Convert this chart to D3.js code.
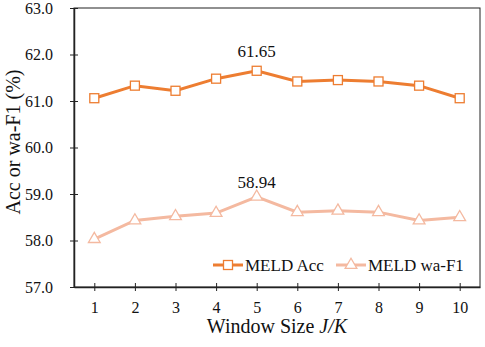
<!DOCTYPE html>
<html><head><meta charset="utf-8">
<script src="https://cdn.jsdelivr.net/npm/d3@7"></script>
<style>body{margin:0;background:#fff}svg{display:block}text{font-family:"Liberation Serif","Times New Roman",serif;fill:#111}</style>
</head><body><svg id="c" width="485" height="347"></svg>
<script>
const windowSizes = [1,2,3,4,5,6,7,8,9,10];
const accValues = [61.06,61.33,61.22,61.48,61.65,61.42,61.45,61.42,61.33,61.06];
const f1Values = [58.03,58.43,58.52,58.59,58.94,58.61,58.64,58.61,58.43,58.50];
const yTicks = [57,58,59,60,61,62,63];
const seriesNames = ["MELD Acc","MELD wa-F1"];
const colors = ["#ED7D31","#F4B9A0"];

const svg = d3.select("#c");
const L=74,R=480,T=8,B=287;
const x = d3.scaleLinear().domain([0.5,10.5]).range([L,R]);
const y = d3.scaleLinear().domain([57,63]).range([B,T]);

// frame
svg.append("rect").attr("x",L).attr("y",T).attr("width",R-L).attr("height",B-T)
  .attr("fill","none").attr("stroke","#222").attr("stroke-width",1);

const yAxis = svg.append("g").attr("transform",`translate(${L},0)`)
  .call(d3.axisLeft(y).tickValues(yTicks).tickFormat(d3.format(".1f")).tickSize(0).tickPadding(21));
yAxis.select(".domain").attr("stroke","#222").attr("stroke-width",1.5);
yAxis.selectAll(".tick line").attr("x1",-4).attr("x2",4).attr("stroke","#222");
yAxis.selectAll("text").style("font-size","16px").style("font-family","Liberation Serif").attr("fill","#111");

const xAxis = svg.append("g").attr("transform",`translate(0,${B})`)
  .call(d3.axisBottom(x).tickValues(windowSizes).tickSize(0).tickPadding(15));
xAxis.select(".domain").attr("stroke","#222").attr("stroke-width",1.5);
xAxis.selectAll(".tick line").attr("y1",-4).attr("y2",4).attr("stroke","#222");
xAxis.selectAll("text").style("font-size","16px").style("font-family","Liberation Serif").attr("fill","#111");

// axis titles
svg.append("text").attr("transform",`translate(20,142) rotate(-90)`)
  .attr("text-anchor","middle").style("font-size","20px").text("Acc or wa-F1 (%)");
const xt = svg.append("text").attr("x",277).attr("y",333).attr("text-anchor","middle").style("font-size","20px");
xt.append("tspan").text("Window Size ");
xt.append("tspan").style("font-style","italic").text("J/K");

const line = d3.line().x((d,i)=>x(windowSizes[i])).y(d=>y(d));
const tri = d3.symbol().type(d3.symbolTriangle).size(60);

function drawSeries(vals,color,shape){
  svg.append("path").datum(vals).attr("d",line).attr("fill","none")
    .attr("stroke",color).attr("stroke-width",3);
  const g = svg.append("g");
  vals.forEach((v,i)=>{
    if(shape==="sq"){
      g.append("rect").attr("x",x(windowSizes[i])-4.5).attr("y",y(v)-4.5).attr("width",9).attr("height",9)
        .attr("fill","#fff").attr("stroke",color).attr("stroke-width",1.3);
    } else {
      g.append("path").attr("d",tri).attr("transform",`translate(${x(windowSizes[i])},${y(v)})`)
        .attr("fill","#fff").attr("stroke",color).attr("stroke-width",1.3);
    }
  });
}
drawSeries(f1Values,colors[1],"tri");
drawSeries(accValues,colors[0],"sq");

// peak labels
const iA = accValues.indexOf(d3.max(accValues));
svg.append("text").attr("x",x(windowSizes[iA])).attr("y",y(accValues[iA])-14).attr("text-anchor","middle").style("font-size","17px").text(accValues[iA].toFixed(2));
const iF = f1Values.indexOf(d3.max(f1Values));
svg.append("text").attr("x",x(windowSizes[iF])).attr("y",y(f1Values[iF])-9).attr("text-anchor","middle").style("font-size","17px").text(f1Values[iF].toFixed(2));

// legend
const legY = 265;
const legX = [213,336];
seriesNames.forEach((n,i)=>{
  const g = svg.append("g");
  g.append("line").attr("x1",legX[i]).attr("x2",legX[i]+30).attr("y1",legY).attr("y2",legY).attr("stroke",colors[i]).attr("stroke-width",3);
  if(i===0){
    g.append("rect").attr("x",legX[i]+15-4.5).attr("y",legY-4.5).attr("width",9).attr("height",9).attr("fill","#fff").attr("stroke",colors[i]).attr("stroke-width",1.3);
  } else {
    g.append("path").attr("d",tri).attr("transform",`translate(${legX[i]+15},${legY})`).attr("fill","#fff").attr("stroke",colors[i]).attr("stroke-width",1.3);
  }
  g.append("text").attr("x",legX[i]+32).attr("y",legY+6).style("font-size","17px").text(n);
});
</script></body></html>
